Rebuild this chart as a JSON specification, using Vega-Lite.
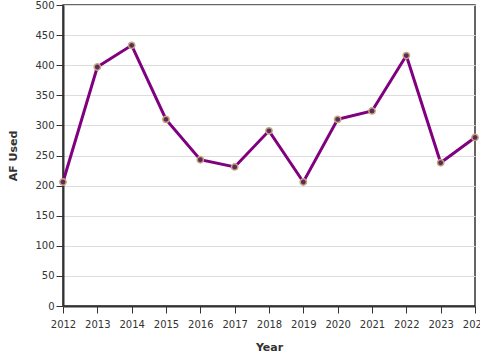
{
  "$schema": "https://vega.github.io/schema/vega-lite/v6.json",
  "autosize": {"type": "none"},
  "padding": {"left": 63, "top": 5, "right": 5, "bottom": 54},
  "width": 412,
  "height": 301,
  "background": "white",
  "config": {
    "font": "DejaVu Sans",
    "view": {"stroke": "#333333", "strokeWidth": 1.5},
    "axis": {
      "labelFont": "DejaVu Sans",
      "labelFontSize": 10,
      "labelColor": "#333333",
      "titleFont": "DejaVu Sans",
      "titleFontSize": 11,
      "titleFontWeight": "bold",
      "titleColor": "#333333",
      "domainColor": "#333333",
      "domainWidth": 2,
      "tickColor": "#333333",
      "tickSize": 7,
      "gridColor": "#dddddd"
    }
  },
  "data": {
    "values": [
      {"Year": 2012, "AF": 206},
      {"Year": 2013, "AF": 397},
      {"Year": 2014, "AF": 433},
      {"Year": 2015, "AF": 310},
      {"Year": 2016, "AF": 243},
      {"Year": 2017, "AF": 231},
      {"Year": 2018, "AF": 291},
      {"Year": 2019, "AF": 206},
      {"Year": 2020, "AF": 310},
      {"Year": 2021, "AF": 324},
      {"Year": 2022, "AF": 416},
      {"Year": 2023, "AF": 238},
      {"Year": 2024, "AF": 280}
    ]
  },
  "encoding": {
    "x": {
      "field": "Year",
      "type": "quantitative",
      "scale": {"domain": [2012, 2024], "nice": false, "zero": false},
      "axis": {"format": "d", "values": [2012,2013,2014,2015,2016,2017,2018,2019,2020,2021,2022,2023,2024], "grid": false, "title": "Year", "labelPadding": 6, "titlePadding": 12, "labelOverlap": false, "labelFlush": false}
    },
    "y": {
      "field": "AF",
      "type": "quantitative",
      "scale": {"domain": [0, 500], "nice": false},
      "axis": {"values": [0,50,100,150,200,250,300,350,400,450,500], "title": "AF Used", "titlePadding": 16, "labelPadding": 2}
    }
  },
  "layer": [
    {"mark": {"type": "line", "color": "#800080", "strokeWidth": 3}},
    {"mark": {"type": "point", "filled": true, "fill": "#5e2a5e", "stroke": "#c4a77d", "strokeWidth": 1.5, "size": 40, "opacity": 1}}
  ]
}
